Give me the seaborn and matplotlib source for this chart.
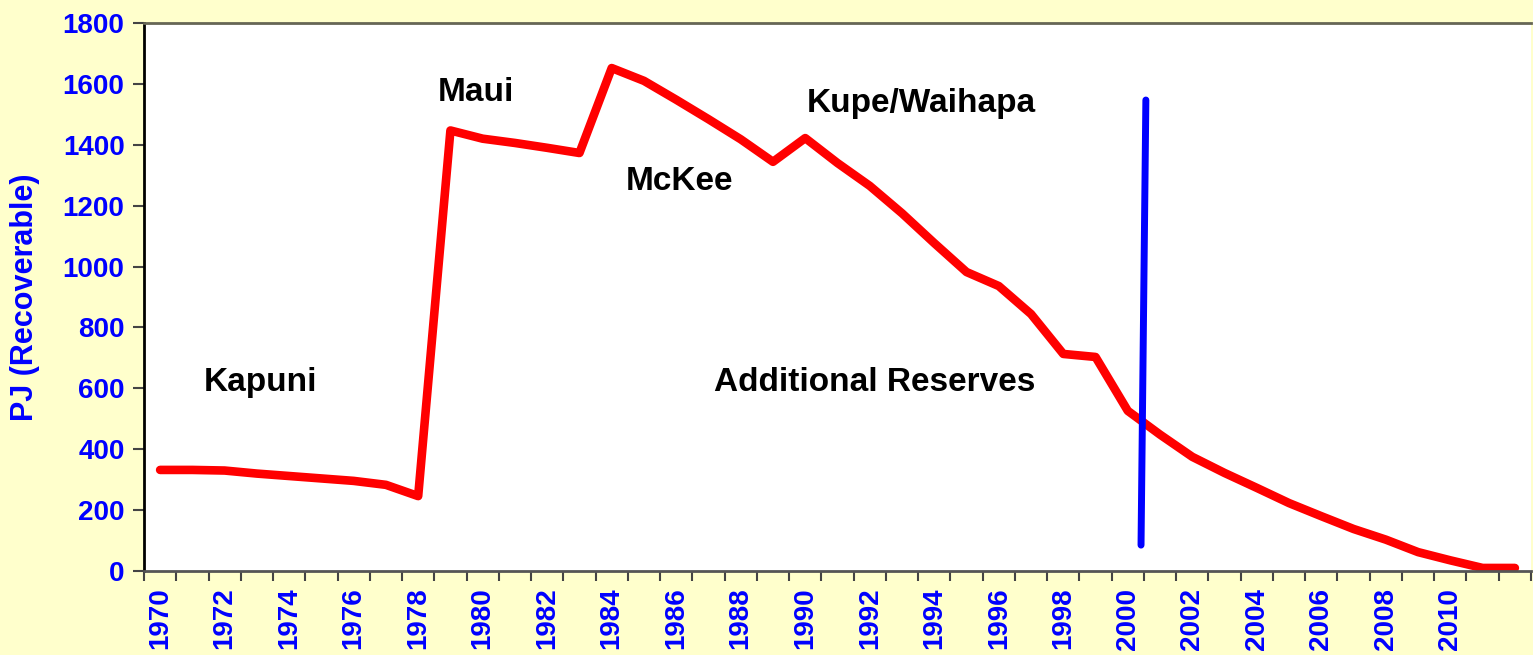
import matplotlib
matplotlib.use('Agg')
import matplotlib.pyplot as plt
import numpy as np
import pandas as pd
import seaborn as sns

# Data (PJ recoverable gas reserves by year)
years = list(range(1970, 2013))
reserves = [332, 332, 330, 320, 312, 304, 296, 283, 246, 1447,
            1420, 1406, 1390, 1373, 1652, 1610, 1548, 1484, 1418, 1344,
            1422, 1340, 1265, 1175, 1077, 982, 936, 844, 713, 703,
            526, 448, 375, 322, 273, 223, 180, 138, 103, 62,
            35, 10, 10]
tick_years = list(range(1970, 2012, 2))
y_ticks = list(range(0, 2000, 200))

# field labels: (text, year position, value position)
field_names = ['Kapuni', 'Maui', 'McKee', 'Kupe/Waihapa', 'Additional Reserves']
field_x = [1973.1, 1979.8, 1986.1, 1993.6, 1992.15]
field_y = [618, 1573, 1278, 1534, 618]

# blue "today" marker line
marker_x = [2000.41, 2000.56]
marker_y = [85, 1547]

df = pd.DataFrame({'year': years, 'value': reserves})

sns.set_style('white')
plt.rcParams['font.family'] = ['Liberation Sans', 'DejaVu Sans']
plt.rcParams['font.weight'] = 'bold'

bg = '#FFFFCC'
fig = plt.figure(figsize=(15.33, 6.55), dpi=100, facecolor=bg)
ax = fig.add_axes([144 / 1533, 1 - 571 / 655, (1531 - 144) / 1533, (571 - 23) / 655])
ax.set_facecolor('white')

sns.lineplot(data=df, x='year', y='value', ax=ax, color='#FF0000', lw=6.2,
             solid_joinstyle='round', solid_capstyle='round')
ax.plot(marker_x, marker_y, color='#0000FF', lw=5, solid_capstyle='round')

for name, tx, ty in zip(field_names, field_x, field_y):
    ax.text(tx, ty, name, ha='center', va='center', fontsize=24,
            fontweight='bold', color='black')

ax.set_xlim(1969.5, 2012.5)
ax.set_ylim(0, 1800)
ax.set_yticks(y_ticks)
ax.set_yticklabels([str(v) for v in y_ticks])
ax.set_xticks(tick_years)
ax.set_xticklabels([str(y) for y in tick_years], rotation=90)
ax.set_xticks(np.arange(1969.5, 2013, 1.0), minor=True)

ax.tick_params(axis='y', which='major', length=8, width=1.5, color='#444444',
               labelsize=20, labelcolor='#0000FF', pad=6, left=True)
ax.tick_params(axis='x', which='major', length=0, labelsize=20,
               labelcolor='#0000FF', pad=12, bottom=True)
ax.tick_params(axis='x', which='minor', length=7, width=1.5, color='#444444',
               bottom=True)
for lbl in ax.get_xticklabels() + ax.get_yticklabels():
    lbl.set_fontweight('bold')

ax.set_xlabel('')
ax.set_ylabel('PJ (Recoverable)', fontsize=22, fontweight='bold',
              color='#0000FF', labelpad=16)

ax.spines['left'].set_color('black')
ax.spines['left'].set_linewidth(2)
ax.spines['bottom'].set_color('#555555')
ax.spines['bottom'].set_linewidth(2)
ax.spines['top'].set_color('#666655')
ax.spines['top'].set_linewidth(2)
ax.spines['right'].set_visible(False)

fig.savefig('out.png', dpi=100, facecolor=bg)
